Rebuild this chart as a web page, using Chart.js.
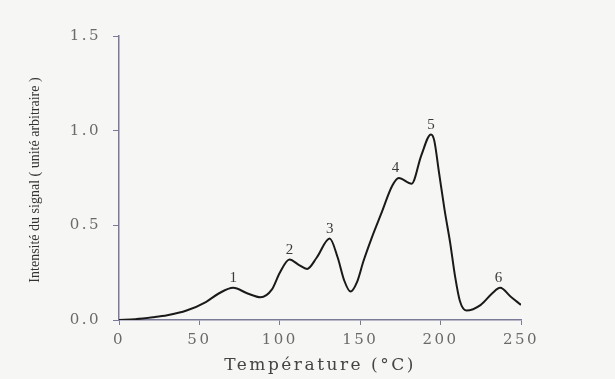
<!DOCTYPE html>
<html>
<head>
<meta charset="utf-8">
<script src="https://cdn.jsdelivr.net/npm/chart.js@4.4.1/dist/chart.umd.min.js"></script>
<style>
  html, body { margin: 0; padding: 0; background: #f6f6f4; }
  #wrap { width: 615px; height: 379px; }
</style>
</head>
<body>
<div id="wrap"><canvas id="glow"></canvas></div>
<script>
// Glow curve
const temps = [0, 10, 21, 30, 42, 54, 62, 71, 80, 88, 95, 100, 106, 112, 117, 123, 131, 136, 140, 144, 148, 152, 157, 163, 170, 174, 182, 188, 194, 196, 199, 202.5, 206, 209, 212, 216, 225, 232, 237, 244, 250];
const intensity = [0.0, 0.004, 0.014, 0.025, 0.05, 0.095, 0.14, 0.17, 0.14, 0.12, 0.16, 0.25, 0.32, 0.29, 0.27, 0.33, 0.43, 0.33, 0.21, 0.15, 0.2, 0.31, 0.43, 0.56, 0.71, 0.75, 0.72, 0.87, 0.98, 0.95, 0.78, 0.58, 0.405, 0.23, 0.1, 0.05, 0.08, 0.14, 0.17, 0.12, 0.08];

// Peak numbers
const peakLabels = ['1', '2', '3', '4', '5', '6'];
const peakTemps = [71, 106, 131, 172, 194, 236];
const peakValues = [0.17, 0.32, 0.43, 0.75, 0.98, 0.17];

const xTicks = [0, 50, 100, 150, 200, 250];
const yTicks = [0, 0.5, 1.0, 1.5];
const yTitle = 'Intensité du signal ( unité arbitraire )';

const points = temps.map((t, i) => ({ x: t, y: intensity[i] }));

const serif = '"Liberation Serif", serif';
const wide = '"DejaVu Serif", serif';
const axisColor = '#7a7a98';

// the scan's axis text is wide and spaced out
const spacing = {
  id: 'spacing',
  beforeDraw(chart) { chart.ctx.letterSpacing = '2.5px'; }
};

// y title and the peak numbers, drawn without the spacing
const extras = {
  id: 'extras',
  afterDatasetsDraw(chart) {
    const { ctx, scales, chartArea } = chart;
    ctx.save();
    ctx.letterSpacing = '0px';
    ctx.font = '15px ' + serif;
    ctx.fillStyle = '#3a3a3a';
    ctx.textAlign = 'center';
    ctx.textBaseline = 'bottom';
    peakLabels.forEach((lab, i) => {
      const px = scales.x.getPixelForValue(peakTemps[i]);
      const py = scales.y.getPixelForValue(peakValues[i]);
      ctx.fillText(lab, px, py - 2);
    });
    ctx.translate(35, (chartArea.top + chartArea.bottom) / 2 + 2);
    ctx.rotate(-Math.PI / 2);
    ctx.font = '14px ' + serif;
    ctx.fillStyle = '#333';
    ctx.textBaseline = 'middle';
    ctx.fillText(yTitle, 0, 0);
    ctx.restore();
  }
};

new Chart(document.getElementById('glow'), {
  type: 'line',
  data: {
    datasets: [{
      data: points,
      borderColor: '#1a1a1a',
      borderWidth: 2,
      pointRadius: 0,
      cubicInterpolationMode: 'monotone',
      fill: false
    }]
  },
  options: {
    responsive: true,
    maintainAspectRatio: false,
    animation: false,
    layout: { padding: { top: 36, right: 94, left: 0, bottom: 0 } },
    plugins: {
      legend: { display: false },
      tooltip: { enabled: false }
    },
    scales: {
      x: {
        type: 'linear',
        min: 0,
        max: 250,
        afterBuildTicks(scale) { scale.ticks = xTicks.map(v => ({ value: v })); },
        afterFit(scale) { scale.height = 59; },
        border: { color: axisColor, width: 1.5 },
        grid: { drawOnChartArea: false, tickLength: 5, color: axisColor },
        ticks: {
          padding: 6,
          color: '#6a6a6a',
          font: { family: wide, size: 15 },
          maxRotation: 0
        },
        title: {
          display: true,
          text: 'Température (°C)',
          color: '#444',
          font: { family: wide, size: 17 },
          padding: { top: 0, bottom: 3 }
        }
      },
      y: {
        min: 0,
        max: 1.5,
        afterBuildTicks(scale) { scale.ticks = yTicks.map(v => ({ value: v })); },
        afterFit(scale) { scale.width = 119; },
        border: { color: axisColor, width: 1.5 },
        grid: { drawOnChartArea: false, tickLength: 6, color: axisColor },
        ticks: {
          padding: 12,
          color: '#6a6a6a',
          font: { family: wide, size: 15 },
          callback: v => v.toFixed(1)
        }
      }
    }
  },
  plugins: [spacing, extras]
});
</script>
</body>
</html>
